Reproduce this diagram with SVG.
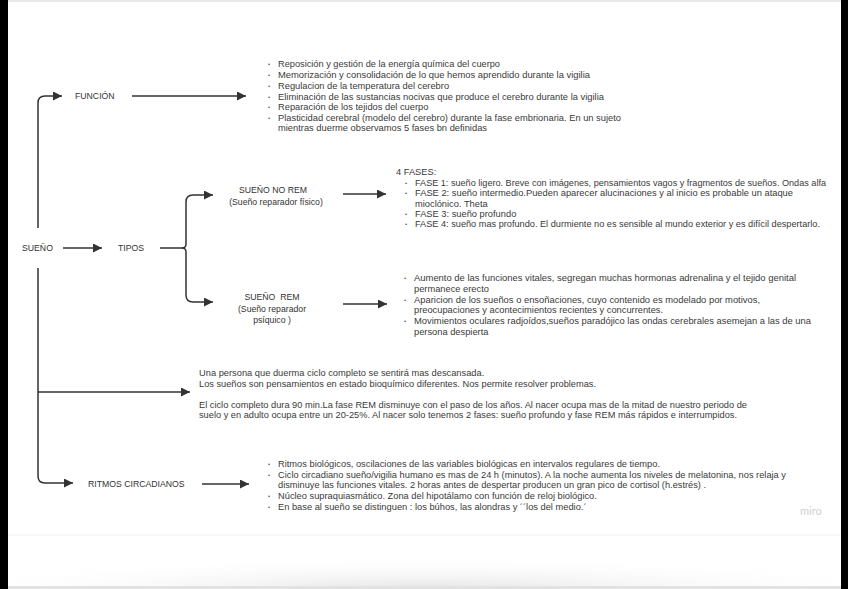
<svg xmlns="http://www.w3.org/2000/svg" width="848" height="589" viewBox="0 0 848 589">
<defs>
<marker id="ah" markerUnits="userSpaceOnUse" markerWidth="10" markerHeight="10" refX="9" refY="4.5" orient="auto">
<path d="M0,0 L9,4.5 L0,9 z" fill="#333"/>
</marker>
<radialGradient id="topsh" cx="0.5" cy="0" r="0.5">
<stop offset="0" stop-color="#e6e6e6"/>
<stop offset="1" stop-color="#ffffff" stop-opacity="0"/>
</radialGradient>
<radialGradient id="botsh" cx="0.5" cy="1" r="0.6">
<stop offset="0" stop-color="#e4e4e4"/>
<stop offset="1" stop-color="#ffffff" stop-opacity="0"/>
</radialGradient>
<style>
.t{font-family:"Liberation Sans",Arial,sans-serif;font-size:9.3px;fill:#3a3a3a}
.l{font-family:"Liberation Sans",Arial,sans-serif;font-size:8.7px;fill:#333}
.b{font-family:"Liberation Sans",Arial,sans-serif;font-size:6px;fill:#555}
.c{fill:none;stroke:#333;stroke-width:1.5}
</style>
</defs>
<rect x="0" y="0" width="848" height="589" fill="#000"/>
<rect x="8" y="0" width="833" height="589" fill="#fff"/>
<rect x="8" y="0" width="833" height="2" fill="#e8e8e8"/>
<ellipse cx="440" cy="0" rx="120" ry="30" fill="url(#topsh)"/>
<rect x="8" y="535" width="833" height="54" fill="url(#botsh)"/>
<line x1="8" y1="535" x2="841" y2="535" stroke="#f2f2f2" stroke-width="1"/>
<rect x="8" y="586" width="833" height="3" fill="#e2e2e2"/>

<g id="connectors">
<path class="c" d="M38,228 V103 Q38,96 45,96 H62" marker-end="url(#ah)"/>
<path class="c" d="M132,96 H246" marker-end="url(#ah)"/>
<path class="c" d="M63,248 H102" marker-end="url(#ah)"/>
<path class="c" d="M160,248 H182 Q186,248 186,244 V202 Q186,195 193,195 H213" marker-end="url(#ah)"/>
<path class="c" d="M182,248 Q186,248 186,252 V295 Q186,302 193,302 H213" marker-end="url(#ah)"/>
<path class="c" d="M343,194 H386" marker-end="url(#ah)"/>
<path class="c" d="M343,304 H387" marker-end="url(#ah)"/>
<path class="c" d="M38,268 V476 Q38,483 45,483 H73" marker-end="url(#ah)"/>
<path class="c" d="M38,392 H190" marker-end="url(#ah)"/>
<path class="c" d="M202,484 H249" marker-end="url(#ah)"/>
</g>

<g id="node-sueno"><text class="l" x="22" y="251">SUEÑO</text></g>
<g id="node-funcion"><text class="l" x="75" y="99">FUNCIÓN</text></g>
<g id="node-tipos"><text class="l" x="118" y="251">TIPOS</text></g>
<g id="node-norem">
<text class="l" x="273" y="193" text-anchor="middle">SUEÑO NO REM</text>
<text class="l" x="276" y="205" text-anchor="middle">(Sueño reparador físico)</text>
</g>
<g id="node-rem">
<text class="l" x="272" y="300" text-anchor="middle" xml:space="preserve">SUEÑO  REM</text>
<text class="l" x="272" y="312" text-anchor="middle">(Sueño reparador</text>
<text class="l" x="272" y="323" text-anchor="middle">psíquico )</text>
</g>
<g id="node-ritmos"><text class="l" x="88" y="487">RITMOS CIRCADIANOS</text></g>

<g id="node-funcion-list">
<text class="b" x="268" y="66">•</text><text class="t" x="278" y="67" textLength="222" lengthAdjust="spacingAndGlyphs">Reposición y gestión de la energía química del cuerpo</text>
<text class="b" x="268" y="77">•</text><text class="t" x="278" y="78" textLength="312" lengthAdjust="spacingAndGlyphs">Memorización y consolidación de lo que hemos aprendido durante la vigilia</text>
<text class="b" x="268" y="88">•</text><text class="t" x="278" y="89">Regulacion de la temperatura del cerebro</text>
<text class="b" x="268" y="99">•</text><text class="t" x="278" y="100" textLength="326" lengthAdjust="spacingAndGlyphs">Eliminación de las sustancias nocivas que produce el cerebro durante la vigilia</text>
<text class="b" x="268" y="109">•</text><text class="t" x="278" y="110">Reparación de los tejidos del cuerpo</text>
<text class="b" x="268" y="120">•</text><text class="t" x="278" y="121" textLength="343" lengthAdjust="spacingAndGlyphs">Plasticidad cerebral (modelo del cerebro) durante la fase embrionaria. En un sujeto</text>
<text class="t" x="278" y="131" textLength="209" lengthAdjust="spacingAndGlyphs">mientras duerme observamos 5 fases bn definidas</text>
</g>

<g id="node-fases">
<text class="t" x="396" y="175">4 FASES:</text>
<text class="b" x="405" y="185">•</text><text class="t" x="415" y="186" textLength="411" lengthAdjust="spacingAndGlyphs">FASE 1: sueño ligero. Breve con imágenes, pensamientos vagos y fragmentos de sueños. Ondas alfa</text>
<text class="b" x="405" y="195">•</text><text class="t" x="415" y="196" textLength="378" lengthAdjust="spacingAndGlyphs">FASE 2: sueño intermedio.Pueden aparecer alucinaciones y al inicio es probable un ataque</text>
<text class="t" x="415" y="207">mioclónico. Theta</text>
<text class="b" x="405" y="216">•</text><text class="t" x="415" y="217">FASE 3: sueño profundo</text>
<text class="b" x="405" y="226">•</text><text class="t" x="415" y="227" textLength="405" lengthAdjust="spacingAndGlyphs">FASE 4: sueño mas profundo. El durmiente no es sensible al mundo exterior y es difícil despertarlo.</text>
</g>

<g id="node-rem-list">
<text class="b" x="404" y="280">•</text><text class="t" x="414" y="281" textLength="382" lengthAdjust="spacingAndGlyphs">Aumento de las funciones vitales, segregan muchas hormonas adrenalina y el tejido genital</text>
<text class="t" x="414" y="292">permanece erecto</text>
<text class="b" x="404" y="302">•</text><text class="t" x="414" y="303" textLength="346" lengthAdjust="spacingAndGlyphs">Aparicion de los sueños o ensoñaciones, cuyo contenido es modelado por motivos,</text>
<text class="t" x="414" y="313">preocupaciones y acontecimientos recientes y concurrentes.</text>
<text class="b" x="404" y="323">•</text><text class="t" x="414" y="324" textLength="397" lengthAdjust="spacingAndGlyphs">Movimientos oculares radjoídos,sueños paradójico las ondas cerebrales asemejan a las de una</text>
<text class="t" x="414" y="335">persona despierta</text>
</g>

<g id="node-ciclo">
<text class="t" x="199" y="376">Una persona que duerma ciclo completo se sentirá mas descansada.</text>
<text class="t" x="199" y="387" textLength="397" lengthAdjust="spacingAndGlyphs">Los sueños son pensamientos en estado bioquímico diferentes. Nos permite resolver problemas.</text>
<text class="t" x="199" y="408" textLength="548" lengthAdjust="spacingAndGlyphs">El ciclo completo dura 90 min.La fase REM disminuye con el paso de los años. Al nacer ocupa mas de la mitad de nuestro periodo de</text>
<text class="t" x="199" y="418" textLength="538" lengthAdjust="spacingAndGlyphs">suelo y en adulto ocupa entre un 20-25%. Al nacer solo tenemos 2 fases: sueño profundo y fase REM más rápidos e interrumpidos.</text>
</g>

<g id="node-ritmos-list">
<text class="b" x="268" y="466">•</text><text class="t" x="278" y="467" textLength="382" lengthAdjust="spacingAndGlyphs">Ritmos biológicos, oscilaciones de las variables biológicas en intervalos regulares de tiempo.</text>
<text class="b" x="268" y="477">•</text><text class="t" x="278" y="478" textLength="508" lengthAdjust="spacingAndGlyphs">Ciclo circadiano sueño/vigilia humano es mas de 24 h (minutos). A la noche aumenta los niveles de melatonina, nos relaja y</text>
<text class="t" x="278" y="488" textLength="428" lengthAdjust="spacingAndGlyphs">disminuye las funciones vitales. 2 horas antes de despertar producen un gran pico de cortisol (h.estrés) .</text>
<text class="b" x="268" y="498">•</text><text class="t" x="278" y="499">Núcleo supraquiasmático. Zona del hipotálamo con función de reloj biológico.</text>
<text class="b" x="268" y="509">•</text><text class="t" x="278" y="510">En base al sueño se distinguen : los búhos, las alondras y ´´los del medio.´</text>
</g>

<text x="800" y="515" font-family="Lato, 'Liberation Sans', sans-serif" font-size="11" fill="#cfcfd6">miro</text>
</svg>
